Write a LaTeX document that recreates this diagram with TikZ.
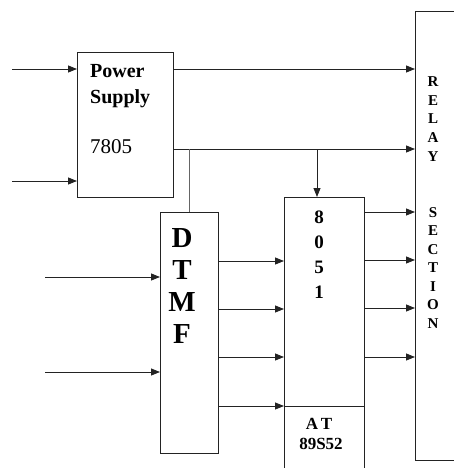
\documentclass[tikz,border=0pt]{standalone}
\usepackage{fontspec}
\setmainfont{Liberation Serif}
\usepackage{xcolor}
\usepackage{tikz}
\usetikzlibrary{arrows.meta,positioning,calc}
\definecolor{lineDark}{RGB}{35,35,35}
\tikzset{
  blockbox/.style={
    rectangle, draw=lineDark, line width=0.8pt, fill=white,
    anchor=north west, inner sep=0pt
  },
  boxtext/.style={inner sep=0pt, anchor=base, text=black},
  sigArrow/.style={-{Triangle[length=9pt,width=7pt]}, line width=0.8pt, color=lineDark},
  sigLine/.style={line width=0.8pt, color=lineDark!80}
}
\begin{document}
\begin{tikzpicture}[x=1pt, y=-1pt]
        \useasboundingbox (0,0) rectangle (454,468);
        \clip (0,0) rectangle (454,468);
        % blocks
        \node[blockbox, minimum width=96pt, minimum height=145pt] (ps) at (77,52) {};
        \node[blockbox, minimum width=58pt, minimum height=241pt] (dtmf) at (160,212) {};
        \node[blockbox, minimum width=80pt, minimum height=290pt] (mcu) at (284,197) {};
        \node[blockbox, minimum width=60pt, minimum height=449pt] (relay) at (415,11) {};
        \coordinate (split) at (0,406);
        \draw[sigLine, color=lineDark] (mcu.west |- split) -- (mcu.east |- split);
        % texts
        \node[boxtext, anchor=base west, align=left,
              font=\fontsize{20}{25}\selectfont\bfseries] (pstxt) at (90,103)
          {Power\\Supply};
        \node[boxtext, anchor=base west, font=\fontsize{21}{25}\selectfont] (regtxt)
          at (90,153) {7805};
        \foreach \ch [count=\i] in {D,T,M,F}
          \node[boxtext, font=\fontsize{29}{32}\selectfont\bfseries] (dtmf-\i)
            at (182,{215+32*\i}) {\ch};
        \foreach \ch [count=\i] in {8,0,5,1}
          \node[boxtext, font=\fontsize{19}{25}\selectfont\bfseries] (mcu-\i)
            at (319,{198+25*\i}) {\ch};
        \node[boxtext, font=\fontsize{17}{20}\selectfont\bfseries] (attxt)
          at (319,429) {A\,T};
        \node[boxtext, font=\fontsize{17}{20}\selectfont\bfseries] (chiptxt)
          at (321,449) {89S52};
        \foreach \ch [count=\i] in {R,E,L,A,Y}
          \node[boxtext, font=\fontsize{15}{18}\selectfont\bfseries] (relay-\i)
            at (433,{68.5+18.5*\i}) {\ch};
        \foreach \ch [count=\i] in {S,E,C,T,I,O,N}
          \node[boxtext, font=\fontsize{15}{18}\selectfont\bfseries] (sect-\i)
            at (433,{198.5+18.5*\i}) {\ch};
        % inputs
        \coordinate (mainA) at (12,69);
        \coordinate (mainB) at (12,181);
        \coordinate (lineA) at (45,277);
        \coordinate (lineB) at (45,372);
        \draw[sigArrow] (mainA) -- (mainA -| ps.west);
        \draw[sigArrow] (mainB) -- (mainB -| ps.west);
        \draw[sigArrow] (lineA) -- (lineA -| dtmf.west);
        \draw[sigArrow] (lineB) -- (lineB -| dtmf.west);
        % supply rails
        \coordinate (jd) at (189,149);
        \coordinate (jm) at (317,149);
        \draw[sigArrow] (ps.east |- mainA) -- (relay.west |- mainA);
        \draw[sigArrow] (ps.east |- jd) -- (relay.west |- jd);
        \draw[sigLine, color=lineDark!70] (jd) -- (jd |- dtmf.north);
        \draw[sigArrow] (jm) -- (jm |- mcu.north);
        % data lines
        \foreach \y in {261,309,357,406}
          \draw[sigArrow] (dtmf.east |- 0,\y) -- (mcu.west |- 0,\y);
        \foreach \y in {212,260,308,357}
          \draw[sigArrow] (mcu.east |- 0,\y) -- (relay.west |- 0,\y);
      \end{tikzpicture}
\end{document}
